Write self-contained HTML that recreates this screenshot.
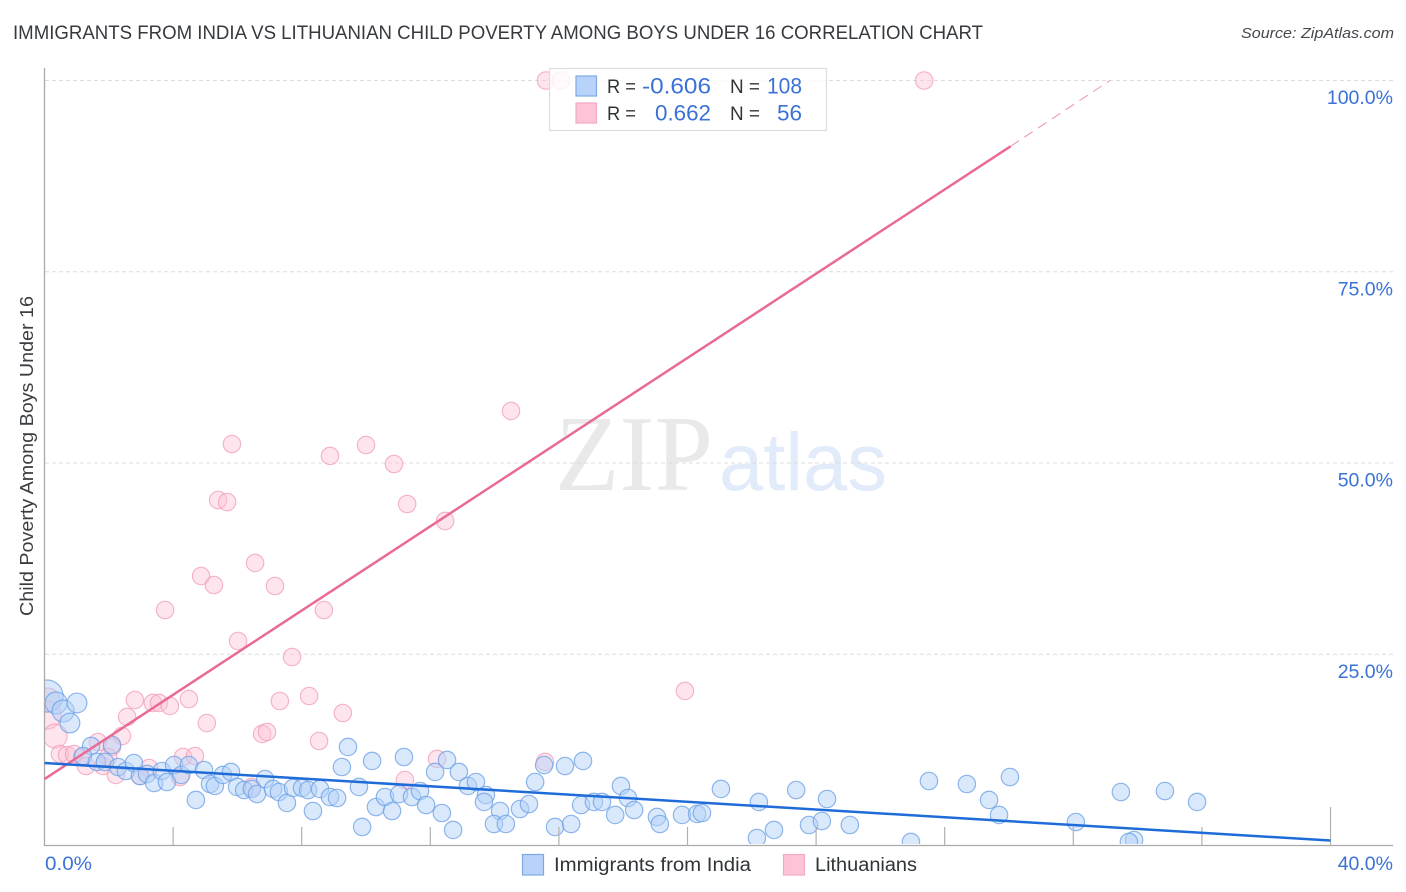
<!DOCTYPE html>
<html lang="en">
<head>
<meta charset="utf-8">
<title>Immigrants from India vs Lithuanian Child Poverty Correlation Chart</title>
<style>
html,body{margin:0;padding:0;background:#fff;}
svg{display:block;}
text{font-family:"Liberation Sans",sans-serif;}
</style>
</head>
<body>
<svg id="chart" width="1406" height="892" viewBox="0 0 1406 892" xmlns="http://www.w3.org/2000/svg">
  <rect x="0" y="0" width="1406" height="892" fill="#ffffff"/>
  <text x="13" y="39" font-size="19" fill="#363a3e" textLength="970" lengthAdjust="spacingAndGlyphs">IMMIGRANTS FROM INDIA VS LITHUANIAN CHILD POVERTY AMONG BOYS UNDER 16 CORRELATION CHART</text>
  <text x="1241" y="38" font-size="15" font-style="italic" fill="#44484c" textLength="153" lengthAdjust="spacingAndGlyphs">Source: ZipAtlas.com</text>
  <text x="555" y="490" font-size="108" fill="#e9e9e9" textLength="158" lengthAdjust="spacingAndGlyphs" style="font-family:'Liberation Serif',serif">ZIP</text>
  <text x="719" y="490" font-size="82" fill="#e1ebf9" textLength="168" lengthAdjust="spacingAndGlyphs">atlas</text>
  <g id="grid"></g>
  <text transform="translate(33,616) rotate(-90)" x="0" y="0" font-size="18" fill="#3a3e42" textLength="320" lengthAdjust="spacingAndGlyphs">Child Poverty Among Boys Under 16</text>
  <defs>
    <clipPath id="plot-clip"><rect x="45" y="60" width="1350" height="784"/></clipPath>
  </defs>
  <g id="points" clip-path="url(#plot-clip)"></g>
  <g id="axes"></g>
  <g id="trends"></g>
  <g>
    <rect x="549.5" y="68.5" width="277" height="62" fill="#ffffff" fill-opacity="0.82" stroke="#dddddd" stroke-width="1.2"/>
    <rect x="576" y="76" width="20.5" height="20" fill="#b7d3f9" stroke="#7fa9e2" stroke-width="1.2"/>
    <rect x="576" y="103" width="20.5" height="20" fill="#fcc4d6" stroke="#f3a9c2" stroke-width="1.2"/>
    <text x="607" y="93" font-size="19" fill="#2f3437" textLength="29" lengthAdjust="spacingAndGlyphs">R =</text>
    <text x="642" y="93.5" font-size="22" fill="#3a72d6" textLength="69" lengthAdjust="spacingAndGlyphs">-0.606</text>
    <text x="730" y="93" font-size="19" fill="#2f3437" textLength="30" lengthAdjust="spacingAndGlyphs">N =</text>
    <text x="767" y="93.5" font-size="22" fill="#3a72d6" textLength="35" lengthAdjust="spacingAndGlyphs">108</text>
    <text x="607" y="120" font-size="19" fill="#2f3437" textLength="29" lengthAdjust="spacingAndGlyphs">R =</text>
    <text x="655" y="120.5" font-size="22" fill="#3a72d6" textLength="56" lengthAdjust="spacingAndGlyphs">0.662</text>
    <text x="730" y="120" font-size="19" fill="#2f3437" textLength="30" lengthAdjust="spacingAndGlyphs">N =</text>
    <text x="777" y="120.5" font-size="22" fill="#3a72d6" textLength="25" lengthAdjust="spacingAndGlyphs">56</text>
  </g>
  <g>
    <rect x="522.5" y="854.5" width="21" height="20.5" fill="#b7d3f9" stroke="#7fa9e2" stroke-width="1.2"/>
    <text x="554" y="871" font-size="19" fill="#2f3437" textLength="197" lengthAdjust="spacingAndGlyphs">Immigrants from India</text>
    <rect x="783.5" y="854.5" width="21" height="20.5" fill="#fcc4d6" stroke="#f3a9c2" stroke-width="1.2"/>
    <text x="815" y="871" font-size="19" fill="#2f3437" textLength="102" lengthAdjust="spacingAndGlyphs">Lithuanians</text>
  </g>
</svg>
<script>
const xTicks = [0,4,8,12,16,20,24,28,32,36,40];
const xLabels = ["0.0%","40.0%"];
const yTicks = [25,50,75,100];
const yLabels = ["25.0%","50.0%","75.0%","100.0%"];

const indiaX = [0.08,0.36,0.58,1.01,0.79,1.45,2.10,1.20,1.63,1.88,2.29,2.53,2.78,2.97,3.19,3.41,3.65,3.81,4.03,4.25,4.49,4.71,4.96,5.15,5.30,5.55,5.80,5.99,6.21,6.45,6.61,6.86,7.11,7.29,7.54,7.73,8.01,8.20,8.57,8.35,8.88,9.10,9.25,9.44,10.19,11.18,9.78,9.88,10.31,10.59,10.81,11.03,11.43,11.68,11.87,12.36,12.71,12.15,12.52,12.89,13.17,13.42,13.73,13.67,14.17,13.98,14.35,14.79,15.07,15.26,15.54,16.19,16.75,15.88,16.38,16.69,17.09,17.34,17.93,18.15,18.34,17.75,19.05,19.14,19.83,20.30,20.45,21.04,22.22,22.16,22.69,23.38,23.78,24.18,24.34,25.05,26.95,27.51,28.69,29.38,29.69,30.03,32.08,33.48,34.85,35.85,33.89,33.73];
const indiaY = [19.54,18.63,17.58,18.63,16.01,13.01,13.14,11.70,10.92,10.92,10.26,9.74,10.78,9.08,9.35,8.17,9.74,8.30,10.52,9.22,10.52,5.95,9.87,8.04,7.78,9.22,9.61,7.65,7.25,7.39,6.73,8.69,7.39,6.99,5.56,7.52,7.52,7.25,7.39,4.51,6.34,6.21,10.26,12.88,11.05,11.57,7.65,2.42,5.03,6.34,4.51,6.73,6.34,7.12,5.29,4.25,2.03,9.61,11.18,9.61,7.78,8.30,6.60,5.69,4.51,2.81,2.81,4.77,5.42,8.30,10.52,10.39,11.05,2.42,2.81,5.29,5.69,5.69,7.78,6.21,4.64,3.99,3.73,2.81,3.99,4.12,4.25,7.39,5.69,0.98,2.03,7.25,2.68,3.20,6.08,2.68,0.46,8.43,8.04,5.95,3.99,8.95,3.07,6.99,7.12,5.69,0.72,0.46];
const indiaWeight = [3.4,1.6,1.6,1.3,1.3];

const lithuanianX = [0.11,0.08,0.33,6.02,7.70,4.49,5.05,2.81,3.37,3.56,3.90,2.57,2.41,7.32,8.23,9.28,6.77,6.92,8.54,1.66,2.10,0.48,0.70,0.92,1.17,1.29,1.82,1.98,2.22,2.97,3.25,4.31,4.68,4.21,6.45,12.21,11.21,15.57,19.92,15.60,16.07,27.36,14.51,5.83,10.00,8.88,10.87,5.40,5.68,11.28,12.46,6.55,4.87,5.27,7.17,3.75,8.69];
const lithuanianY = [19.02,17.06,14.31,26.73,24.64,19.15,16.01,19.02,18.63,18.63,18.24,16.80,14.31,18.89,19.54,17.32,14.58,14.84,13.66,13.53,12.88,11.96,11.83,11.96,11.57,10.39,10.39,11.57,9.22,9.08,10.13,11.57,11.70,8.95,7.65,11.31,8.56,10.92,20.20,100,100,100,56.80,52.48,52.35,50.92,49.87,45.16,44.90,44.64,42.42,36.93,35.23,34.05,33.92,30.78,30.78];
const lithuanianWeight = [1.9,2.6,1.9];

const indiaTrendX = [0,40];
const indiaTrendY = [10.78,0.65];
const lithuanianTrendX = [0,30.05];
const lithuanianTrendY = [8.69,91.4];
const lithuanianExtensionX = [30.05,33.14];
const lithuanianExtensionY = [91.4,100];

const SVG_NS = 'http://www.w3.org/2000/svg';
function xPos(v){ return 44.5 + v * 32.15; }
function yPos(v){ return 845.5 - v * 7.65; }
function rPos(w){ return 8.7 * Math.sqrt(w); }

function make(tag, parent, attrs){
  const el = document.createElementNS(SVG_NS, tag);
  for (const k in attrs) el.setAttribute(k, attrs[k]);
  parent.appendChild(el);
  return el;
}

const grid = document.getElementById('grid');
yTicks.forEach(function(t){
  const g = make('line', grid, {x1:45, x2:1393, y1:yPos(t), y2:yPos(t), stroke:'#dcdcdc', 'stroke-width':1, 'stroke-dasharray':'4 3'});
  
  
});

function drawSeries(xs, ys, weights, fill, stroke, fillOpacity, name){
  const parent = document.getElementById('points');
  xs.forEach(function(x, i){
    const w = weights[i] === undefined ? 1 : weights[i];
    const c = make('circle', parent, {cx:xPos(x), cy:yPos(ys[i]), r:rPos(w), fill:fill, 'fill-opacity':fillOpacity, stroke:stroke, 'stroke-opacity':0.75, 'stroke-width':1.2});
    
    
  });
}
drawSeries(lithuanianX, lithuanianY, lithuanianWeight, '#fcc0d3', '#f09db9', 0.42, 'lithuanians-point');
drawSeries(indiaX, indiaY, indiaWeight, '#b3d1f8', '#6a9fe6', 0.5, 'india-point');

const axes = document.getElementById('axes');
const yAxis = make('line', axes, {x1:44.5, x2:44.5, y1:68, y2:846, stroke:'#aaaaaa', 'stroke-width':1.3});


const xAxis = make('line', axes, {x1:44, x2:1393, y1:845.5, y2:845.5, stroke:'#aaaaaa', 'stroke-width':1.3});



xTicks.forEach(function(t, i){
  if (i === 0) return;
  const top = i === xTicks.length - 1 ? 807 : 827;
  const tk = make('line', axes, {x1:xPos(t), x2:xPos(t), y1:top, y2:845.5, stroke:'#b0b0b0', 'stroke-width':1.2});
  
  
});

yLabels.forEach(function(label, i){
  const tx = make('text', axes, {x:1393, y:yPos(yTicks[i]) + 23.5, 'font-size':19.5, fill:'#3a72d6', 'text-anchor':'end'});
  tx.textContent = label;
  
  
});

const xLeft = make('text', axes, {x:45, y:870, 'font-size':19.5, fill:'#3a72d6', textLength:47, lengthAdjust:'spacingAndGlyphs'});
xLeft.textContent = xLabels[0];


const xRight = make('text', axes, {x:1393, y:870, 'font-size':19.5, fill:'#3a72d6', 'text-anchor':'end'});
xRight.textContent = xLabels[1];



const trends = document.getElementById('trends');
const pinkExt = make('line', trends, {x1:xPos(lithuanianExtensionX[0]), y1:yPos(lithuanianExtensionY[0]), x2:xPos(lithuanianExtensionX[1]), y2:yPos(lithuanianExtensionY[1]), stroke:'#ee8fb0', 'stroke-width':1, 'stroke-dasharray':'10 6.5'});


const pinkLine = make('line', trends, {x1:xPos(lithuanianTrendX[0]), y1:yPos(lithuanianTrendY[0]), x2:xPos(lithuanianTrendX[1]), y2:yPos(lithuanianTrendY[1]), stroke:'#e96a96', 'stroke-width':2.5});


const blueLine = make('line', trends, {x1:xPos(indiaTrendX[0]), y1:yPos(indiaTrendY[0]), x2:xPos(indiaTrendX[1]), y2:yPos(indiaTrendY[1]), stroke:'#1f6cd9', 'stroke-width':2.5});


</script>
</body>
</html>
